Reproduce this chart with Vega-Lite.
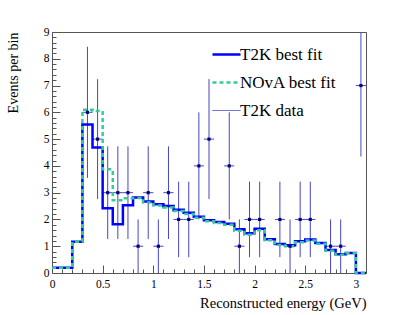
{
  "$schema": "https://vega.github.io/schema/vega-lite/v6.json",
  "width": 314,
  "height": 241,
  "autosize": "none",
  "padding": {"left": 52, "top": 32, "right": 41, "bottom": 42},
  "background": "white",
  "config": {
    "view": {"stroke": "#555", "strokeWidth": 1},
    "font": "Liberation Serif",
    "axis": {"labelFont": "Liberation Serif", "titleFont": "Liberation Serif", "grid": false, "domain": false, "labelColor": "#000", "titleColor": "#000", "tickColor": "#555", "tickWidth": 1, "titleFontWeight": "normal"},
    "legend": {"orient": "none", "legendX": 166, "legendY": 14, "title": null, "symbolType": "stroke", "symbolSize": 784, "symbolStrokeWidth": 2.5, "labelFont": "Liberation Serif", "labelFontSize": 17, "labelColor": "#000", "labelOffset": 5, "rowPadding": 10, "padding": 0, "labelLimit": 300}
  },
  "datasets": {
    "hist": [
      {"e": 0.0, "t2k": 0.2, "nova": 0.2},
      {"e": 0.2, "t2k": 1.17, "nova": 1.17},
      {"e": 0.3, "t2k": 5.55, "nova": 6.1},
      {"e": 0.4, "t2k": 4.69, "nova": 6.05},
      {"e": 0.5, "t2k": 2.42, "nova": 3.87},
      {"e": 0.6, "t2k": 1.82, "nova": 2.72},
      {"e": 0.7, "t2k": 2.53, "nova": 2.79},
      {"e": 0.8, "t2k": 2.82, "nova": 2.8},
      {"e": 0.9, "t2k": 2.67, "nova": 2.63},
      {"e": 1.0, "t2k": 2.57, "nova": 2.52},
      {"e": 1.1, "t2k": 2.5, "nova": 2.45},
      {"e": 1.2, "t2k": 2.36, "nova": 2.32},
      {"e": 1.3, "t2k": 2.25, "nova": 2.2},
      {"e": 1.4, "t2k": 2.1, "nova": 2.06},
      {"e": 1.5, "t2k": 1.97, "nova": 1.93},
      {"e": 1.6, "t2k": 1.9, "nova": 1.87},
      {"e": 1.7, "t2k": 1.84, "nova": 1.8},
      {"e": 1.8, "t2k": 1.63, "nova": 1.58},
      {"e": 1.9, "t2k": 1.48, "nova": 1.43},
      {"e": 2.0, "t2k": 1.65, "nova": 1.6},
      {"e": 2.1, "t2k": 1.26, "nova": 1.22},
      {"e": 2.2, "t2k": 1.08, "nova": 1.05},
      {"e": 2.3, "t2k": 1.04, "nova": 1.0},
      {"e": 2.4, "t2k": 1.19, "nova": 1.15},
      {"e": 2.5, "t2k": 1.25, "nova": 1.21},
      {"e": 2.6, "t2k": 1.12, "nova": 1.09},
      {"e": 2.7, "t2k": 0.86, "nova": 0.83},
      {"e": 2.8, "t2k": 0.7, "nova": 0.68},
      {"e": 2.9, "t2k": 0.75, "nova": 0.74},
      {"e": 3.0, "t2k": 0.0, "nova": 0.0},
      {"e": 3.1, "t2k": 0.0, "nova": 0.0}
    ],
    "pts": [
      {"c": 0.35, "x1": 0.3, "x2": 0.4, "n": 6, "lo": 3.55, "hi": 8.45},
      {"c": 0.45, "x1": 0.4, "x2": 0.5, "n": 5, "lo": 2.76, "hi": 7.24},
      {"c": 0.55, "x1": 0.5, "x2": 0.6, "n": 3, "lo": 1.27, "hi": 4.73},
      {"c": 0.65, "x1": 0.6, "x2": 0.7, "n": 3, "lo": 1.27, "hi": 4.73},
      {"c": 0.75, "x1": 0.7, "x2": 0.8, "n": 3, "lo": 1.27, "hi": 4.73},
      {"c": 0.85, "x1": 0.8, "x2": 0.9, "n": 1, "lo": 0, "hi": 2},
      {"c": 0.95, "x1": 0.9, "x2": 1.0, "n": 3, "lo": 1.27, "hi": 4.73},
      {"c": 1.05, "x1": 1.0, "x2": 1.1, "n": 1, "lo": 0, "hi": 2},
      {"c": 1.15, "x1": 1.1, "x2": 1.2, "n": 3, "lo": 1.27, "hi": 4.73},
      {"c": 1.25, "x1": 1.2, "x2": 1.3, "n": 2, "lo": 0.59, "hi": 3.41},
      {"c": 1.35, "x1": 1.3, "x2": 1.4, "n": 2, "lo": 0.59, "hi": 3.41},
      {"c": 1.45, "x1": 1.4, "x2": 1.5, "n": 4, "lo": 2, "hi": 6},
      {"c": 1.55, "x1": 1.5, "x2": 1.6, "n": 5, "lo": 2.76, "hi": 7.24},
      {"c": 1.75, "x1": 1.7, "x2": 1.8, "n": 4, "lo": 2, "hi": 6},
      {"c": 1.85, "x1": 1.8, "x2": 1.9, "n": 1, "lo": 0, "hi": 2},
      {"c": 1.95, "x1": 1.9, "x2": 2.0, "n": 2, "lo": 0.59, "hi": 3.41},
      {"c": 2.05, "x1": 2.0, "x2": 2.1, "n": 2, "lo": 0.59, "hi": 3.41},
      {"c": 2.25, "x1": 2.2, "x2": 2.3, "n": 2, "lo": 0.59, "hi": 3.41},
      {"c": 2.35, "x1": 2.3, "x2": 2.4, "n": 1, "lo": 0, "hi": 2},
      {"c": 2.45, "x1": 2.4, "x2": 2.5, "n": 2, "lo": 0.59, "hi": 3.41},
      {"c": 2.55, "x1": 2.5, "x2": 2.6, "n": 2, "lo": 0.59, "hi": 3.41},
      {"c": 2.75, "x1": 2.7, "x2": 2.8, "n": 1, "lo": 0, "hi": 2},
      {"c": 2.85, "x1": 2.8, "x2": 2.9, "n": 1, "lo": 0, "hi": 2},
      {"c": 3.05, "x1": 3.0, "x2": 3.1, "n": 7, "lo": 4.35, "hi": 9.65}
    ]
  },
  "layer": [
    {
      "data": {"name": "pts"},
      "mark": {"type": "rule", "color": "#4646c4", "strokeWidth": 1, "clip": true},
      "encoding": {
        "x": {"field": "c", "type": "quantitative", "scale": {"domain": [0, 3.1], "nice": false, "zero": false},
              "axis": {"orient": "bottom", "values": [0, 0.5, 1, 1.5, 2, 2.5, 3], "labels": false, "tickSize": -8, "title": null}},
        "y": {"field": "lo", "type": "quantitative", "scale": {"domain": [0, 9], "nice": false},
              "axis": {"orient": "left", "values": [0, 1, 2, 3, 4, 5, 6, 7, 8, 9], "labels": false, "tickSize": -8, "title": null}},
        "y2": {"field": "hi"}
      }
    },
    {
      "data": {"name": "pts"},
      "mark": {"type": "rule", "color": "#4646c4", "strokeWidth": 1, "clip": true},
      "encoding": {
        "x": {"field": "x1", "type": "quantitative", "scale": {"domain": [0, 3.1], "nice": false, "zero": false},
              "axis": {"orient": "bottom", "values": [0, 0.1, 0.2, 0.3, 0.4, 0.5, 0.6, 0.7, 0.8, 0.9, 1, 1.1, 1.2, 1.3, 1.4, 1.5, 1.6, 1.7, 1.8, 1.9, 2, 2.1, 2.2, 2.3, 2.4, 2.5, 2.6, 2.7, 2.8, 2.9, 3, 3.1], "labels": false, "tickSize": -4, "title": null}},
        "x2": {"field": "x2"},
        "y": {"field": "n", "type": "quantitative", "scale": {"domain": [0, 9], "nice": false},
              "axis": {"orient": "left", "values": [0, 0.2, 0.4, 0.6, 0.8, 1, 1.2, 1.4, 1.6, 1.8, 2, 2.2, 2.4, 2.6, 2.8, 3, 3.2, 3.4, 3.6, 3.8, 4, 4.2, 4.4, 4.6, 4.8, 5, 5.2, 5.4, 5.6, 5.8, 6, 6.2, 6.4, 6.6, 6.8, 7, 7.2, 7.4, 7.6, 7.8, 8, 8.2, 8.4, 8.6, 8.8, 9], "labels": false, "tickSize": -4, "title": null}}
      }
    },
    {
      "data": {"name": "hist"},
      "transform": [{"fold": ["t2k", "nova"], "as": ["s", "v"]}],
      "mark": {"type": "line", "interpolate": "step-after", "strokeWidth": 2.5},
      "encoding": {
        "x": {"field": "e", "type": "quantitative", "scale": {"domain": [0, 3.1], "nice": false, "zero": false},
              "axis": {"orient": "bottom", "values": [0, 0.5, 1, 1.5, 2, 2.5, 3], "format": "~g", "ticks": false, "labelFontSize": 11.5, "labelPadding": 5, "labelFlush": false,
                       "title": "Reconstructed energy (GeV)", "titleAnchor": "end", "titleFontSize": 14.5, "titleBaseline": "middle", "titleY": 30}},
        "y": {"field": "v", "type": "quantitative", "scale": {"domain": [0, 9], "nice": false},
              "axis": {"orient": "left", "values": [0, 1, 2, 3, 4, 5, 6, 7, 8, 9], "format": "d", "ticks": false, "labelFontSize": 11.5, "labelPadding": 3, "labelFlush": false,
                       "title": "Events per bin", "titleAnchor": "end", "titleFontSize": 14, "titleBaseline": "middle", "titleX": -39}},
        "color": {"field": "s", "type": "nominal",
                  "scale": {"domain": ["t2k", "nova", "data"], "range": ["#0000ff", "#33cc99", "#4646c4"]},
                  "legend": {"labelExpr": "datum.value == 't2k' ? 'T2K best fit' : datum.value == 'nova' ? 'NOvA best fit' : 'T2K data'",
                             "encode": {"symbols": {"update": {"strokeWidth": {"signal": "datum.value == 'data' ? 1 : 2.5"}}}}}},
        "strokeDash": {"field": "s", "type": "nominal",
                  "scale": {"domain": ["t2k", "nova", "data"], "range": [[1, 0], [4, 3], [1, 0]]},
                  "legend": {"labelExpr": "datum.value == 't2k' ? 'T2K best fit' : datum.value == 'nova' ? 'NOvA best fit' : 'T2K data'"}}
      }
    },
    {
      "data": {"name": "pts"},
      "mark": {"type": "point", "filled": true, "shape": "square", "size": 10, "color": "#000080", "opacity": 1},
      "encoding": {
        "x": {"field": "c", "type": "quantitative", "scale": {"domain": [0, 3.1], "nice": false, "zero": false}, "axis": null},
        "y": {"field": "n", "type": "quantitative", "scale": {"domain": [0, 9], "nice": false}, "axis": null}
      }
    }
  ],
  "resolve": {"axis": {"x": "independent", "y": "independent"}}
}
